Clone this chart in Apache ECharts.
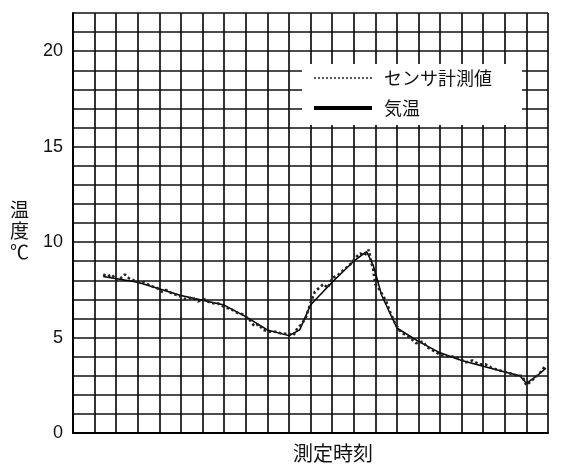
<!DOCTYPE html>
<html lang="ja" style="height: 100%">
<head>
    <meta charset="utf-8">
    <title>温度</title>
    <script src="https://cdn.jsdelivr.net/npm/echarts@6/dist/echarts.min.js"></script>
</head>
<body style="height: 100%; margin: 0; background: #fff">
    <div id="main" style="width: 561px; height: 471px"></div>
    <script type="text/javascript">
        // センサ計測値（時刻, 値）
        var sensorTime = [1.4, 1.6, 1.8, 2.0, 2.2, 2.4, 2.6, 2.8, 3.0, 3.3, 3.6, 3.9, 4.1, 4.3, 4.6, 4.9, 5.2, 5.5, 5.8, 6.1,
                          6.4, 6.7, 7.0, 7.3, 7.6, 7.9, 8.2, 8.4, 8.6, 8.8, 9.1, 9.4, 9.7, 10.0, 10.2, 10.4, 10.6, 10.8, 11.0, 11.2,
                          11.4, 11.6, 11.8, 12.0, 12.3, 12.6, 12.9, 13.1, 13.3, 13.5, 13.7, 13.8, 13.9, 14.0, 14.2, 14.5, 14.7, 14.9, 15.1, 15.3,
                          15.6, 15.9, 16.2, 16.4, 16.7, 17.0, 17.3, 17.6, 17.9, 18.2, 18.5, 18.8, 19.1, 19.4, 19.7, 20.0, 20.3, 20.6, 20.8, 21.0,
                          21.2, 21.4, 21.6, 21.8, 21.9];
        var sensorVal  = [8.3, 8.2, 8.3, 8.0, 8.1, 8.3, 8.1, 8.0, 7.9, 7.9, 7.7, 7.6, 7.4, 7.5, 7.3, 7.2, 7.0, 7.1, 6.9, 7.0,
                          6.8, 6.8, 6.6, 6.5, 6.3, 6.2, 5.9, 5.6, 5.7, 5.4, 5.3, 5.3, 5.2, 5.2, 5.1, 5.5, 5.7, 6.1, 6.8, 7.4,
                          7.6, 7.8, 7.6, 8.1, 8.3, 8.6, 8.9, 9.2, 9.4, 9.3, 9.6, 9.0, 8.6, 7.8, 7.5, 6.9, 6.3, 5.8, 5.4, 5.2,
                          5.0, 4.7, 4.8, 4.5, 4.3, 4.1, 4.0, 4.0, 3.9, 3.7, 3.8, 3.6, 3.6, 3.4, 3.3, 3.2, 3.1, 3.0, 3.0, 2.5,
                          2.7, 2.9, 3.1, 3.4, 3.5];
        // 気温（時刻, 値）
        var airTime = [1.4, 3, 5, 7, 8, 9, 10, 10.5, 11, 12, 13, 13.6, 13.9, 14.3, 15, 16, 17, 18, 19, 20, 20.7, 21, 21.5, 21.9];
        var airVal  = [8.2, 7.9, 7.2, 6.7, 6.1, 5.4, 5.1, 5.4, 6.7, 7.9, 9.0, 9.5, 8.8, 7.2, 5.5, 4.8, 4.2, 3.8, 3.5, 3.2, 3.0, 2.6, 3.0, 3.4];
        var yTicks = [0, 5, 10, 15, 20];

        var fontLatin = 'Liberation Sans, Noto Sans CJK JP';
        var fontJp = 'Noto Sans CJK JP';

        function pairs(t, v) {
            return t.map(function (x, i) { return [x, v[i]]; });
        }

        var myChart = echarts.init(document.getElementById('main'));
        var option = {
            backgroundColor: '#fff',
            animation: false,
            grid: { left: 73, right: 13, top: 13, bottom: 38 },
            legend: {
                orient: 'vertical',
                left: 302,
                top: 64,
                backgroundColor: '#fff',
                padding: [5, 30, 8, 10],
                itemWidth: 58,
                itemHeight: 10,
                itemGap: 12,
                itemStyle: { opacity: 0 },
                textStyle: { fontFamily: fontJp, fontSize: 18, color: '#111', padding: [0, 0, 0, 7] },
                data: [
                    { name: 'センサ計測値', lineStyle: { color: '#555', width: 2, type: 'dotted' } },
                    { name: '気温', lineStyle: { color: '#000', width: 4 } }
                ]
            },
            xAxis: {
                type: 'value',
                min: 0, max: 22, interval: 1,
                axisLine: { lineStyle: { color: '#000', width: 2 } },
                axisTick: { show: false },
                axisLabel: { show: false },
                splitLine: { lineStyle: { color: '#111', width: 1.7 } }
            },
            yAxis: {
                type: 'value',
                min: 0, max: 22, interval: 1,
                axisLine: { show: true, lineStyle: { color: '#000', width: 2 } },
                axisTick: { show: false },
                axisLabel: {
                    fontFamily: fontLatin, fontSize: 18, color: '#111', margin: 10,
                    formatter: function (v) { return yTicks.indexOf(v) >= 0 ? v : ''; }
                },
                splitLine: { lineStyle: { color: '#111', width: 1.7 } }
            },
            graphic: [
                {
                    type: 'text',
                    left: 293, top: 443,
                    style: { text: '測定時刻', font: '20px "Noto Sans CJK JP"', fill: '#111' }
                },
                {
                    type: 'text',
                    left: 10, top: 199,
                    style: { text: '温\n度\n℃', font: '19px "Noto Sans CJK JP"', lineHeight: 21, fill: '#111' }
                }
            ],
            series: [
                {
                    name: 'センサ計測値',
                    type: 'line',
                    symbol: 'none',
                    data: pairs(sensorTime, sensorVal),
                    lineStyle: { color: '#222', width: 2.6, type: 'dotted' },
                    itemStyle: { color: '#555' },
                    z: 3
                },
                {
                    name: '気温',
                    type: 'line',
                    symbol: 'none',
                    data: pairs(airTime, airVal),
                    lineStyle: { color: '#000', width: 1.5 },
                    itemStyle: { color: '#000' },
                    z: 2
                }
            ]
        };
        myChart.setOption(option);
    </script>
</body>
</html>
